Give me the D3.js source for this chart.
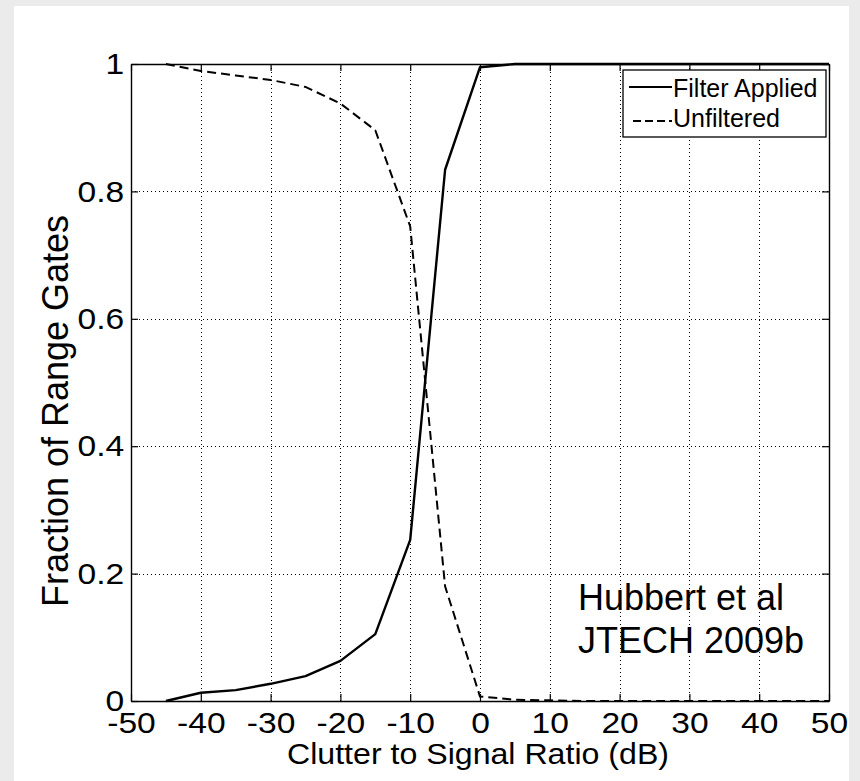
<!DOCTYPE html>
<html>
<head>
<meta charset="utf-8">
<script src="https://cdn.jsdelivr.net/npm/d3@7"></script>
<style>
  body { margin: 0; background: #ebebeb; }
  svg { display: block; }
</style>
</head>
<body>
<div id="chart"></div>
<script>
// clutter to signal ratio (dB)
const csr = [-45, -40, -35, -30, -25, -20, -15, -10, -5, 0, 5, 10, 15, 20, 25, 30, 35, 40, 45, 50];
// fraction of range gates
const filterApplied = [0, 0.013, 0.017, 0.027, 0.039, 0.063, 0.105, 0.253, 0.834, 0.995, 1, 1, 1, 1, 1, 1, 1, 1, 1, 1];
const unfiltered = [1, 0.989, 0.982, 0.975, 0.964, 0.938, 0.896, 0.745, 0.18, 0.007, 0.002, 0.001, 0, 0, 0, 0, 0, 0, 0, 0];

const xTicks = [-50, -40, -30, -20, -10, 0, 10, 20, 30, 40, 50];
const yTicks = [0, 0.2, 0.4, 0.6, 0.8, 1];
const seriesNames = ['Filter Applied', 'Unfiltered'];
const noteLines = ['Hubbert et al', 'JTECH 2009b'];

const FONT = '"Liberation Sans", Arial, Helvetica, sans-serif';

function CurveChart(root){
    const W = 860, H = 781;
    const margin = { top: 64, right: 31, bottom: 80, left: 131 },
        width = W - margin.left - margin.right,
        height = H - margin.top - margin.bottom;

    const svgRoot = d3.select(root)
        .append('svg')
        .attr('width', W)
        .attr('height', H);

    // white figure panel
    svgRoot.append('rect')
        .attr('x', 14).attr('y', 6)
        .attr('width', 835).attr('height', H - 6)
        .attr('fill', '#fff');

    const svg = svgRoot.append('g')
        .attr('transform', `translate(${margin.left}, ${margin.top})`);

    const x = d3.scaleLinear().domain([-50, 50]).range([0, width]);
    const y = d3.scaleLinear().domain([0, 1]).range([height, 0]);

    // dotted grid
    const gx = svg.append('g')
        .attr('transform', `translate(0, ${height})`)
        .call(d3.axisBottom(x).tickValues(xTicks.slice(1, -1)).tickSize(-height).tickFormat(''));
    const gy = svg.append('g')
        .call(d3.axisLeft(y).tickValues(yTicks.slice(1, -1)).tickSize(-width).tickFormat(''));
    [gx, gy].forEach(g => {
        g.select('.domain').remove();
        g.selectAll('line')
            .attr('stroke', '#000')
            .attr('stroke-width', 1)
            .attr('stroke-dasharray', '1,3')
            .attr('shape-rendering', 'crispEdges');
    });

    // lines
    const line = vals => d3.line()
        .x((d, i) => x(csr[i]))
        .y(d => y(d))(vals);

    svg.append('path')
        .attr('d', line(filterApplied))
        .attr('fill', 'none')
        .attr('stroke', '#000')
        .attr('stroke-width', 2.4)
        .attr('stroke-linejoin', 'round');
    svg.append('path')
        .attr('d', line(unfiltered))
        .attr('fill', 'none')
        .attr('stroke', '#000')
        .attr('stroke-width', 2)
        .attr('stroke-dasharray', '9,5');

    // box axes, ticks pointing inward
    const styleAxis = g => {
        g.select('.domain').attr('stroke', '#000').attr('stroke-width', 1.4);
        g.selectAll('.tick line').attr('stroke', '#000').attr('stroke-width', 1.2);
        g.selectAll('text')
            .attr('fill', '#000')
            .attr('transform', 'scale(1.12,1)')
            .style('font-family', FONT)
            .style('font-size', '30px');
    };

    svg.append('g')
        .attr('transform', `translate(0, ${height})`)
        .call(d3.axisBottom(x).tickValues(xTicks).tickSizeInner(-7).tickSizeOuter(0).tickPadding(11)
            .tickFormat(d => d))
        .call(styleAxis);
    svg.append('g')
        .call(d3.axisTop(x).tickValues(xTicks).tickSizeInner(-7).tickSizeOuter(0).tickFormat(''))
        .call(styleAxis);
    svg.append('g')
        .call(d3.axisLeft(y).tickValues(yTicks).tickSizeInner(-7).tickSizeOuter(0).tickPadding(6)
            .tickFormat(d => d))
        .call(styleAxis);
    svg.append('g')
        .attr('transform', `translate(${width}, 0)`)
        .call(d3.axisRight(y).tickValues(yTicks).tickSizeInner(-7).tickSizeOuter(0).tickFormat(''))
        .call(styleAxis);

    // axis titles
    svgRoot.append('text')
        .attr('x', 478).attr('y', 764)
        .attr('text-anchor', 'middle')
        .attr('textLength', 382)
        .attr('lengthAdjust', 'spacingAndGlyphs')
        .style('font-family', FONT).style('font-size', '30px')
        .text('Clutter to Signal Ratio (dB)');
    svgRoot.append('text')
        .attr('transform', 'translate(68, 411) rotate(-90)')
        .attr('text-anchor', 'middle')
        .style('font-family', FONT).style('font-size', '36px')
        .text('Fraction of Range Gates');

    // annotation
    svgRoot.selectAll('.note')
        .data(noteLines)
        .enter().append('text')
        .attr('class', 'note')
        .attr('x', 578)
        .attr('y', (d, i) => 610 + i * 43)
        .style('font-family', FONT).style('font-size', '36px')
        .text(d => d);

    // legend
    const lg = svgRoot.append('g');
    lg.append('rect')
        .attr('x', 623).attr('y', 70)
        .attr('width', 203).attr('height', 67)
        .attr('fill', '#fff')
        .attr('stroke', '#000')
        .attr('stroke-width', 1.3);
    const rows = [
        { name: seriesNames[0], dash: null, ly: 87, ty: 97 },
        { name: seriesNames[1], dash: '8,4', ly: 121, ty: 127 }
    ];
    rows.forEach(r => {
        lg.append('line')
            .attr('x1', r.dash ? 633 : 629).attr('x2', 672)
            .attr('y1', r.ly).attr('y2', r.ly)
            .attr('stroke', '#000')
            .attr('stroke-width', 2)
            .attr('stroke-dasharray', r.dash);
        lg.append('text')
            .attr('x', 673).attr('y', r.ty)
            .style('font-family', FONT).style('font-size', '25px')
            .text(r.name);
    });
}

CurveChart(document.getElementById('chart'));
</script>
</body>
</html>
